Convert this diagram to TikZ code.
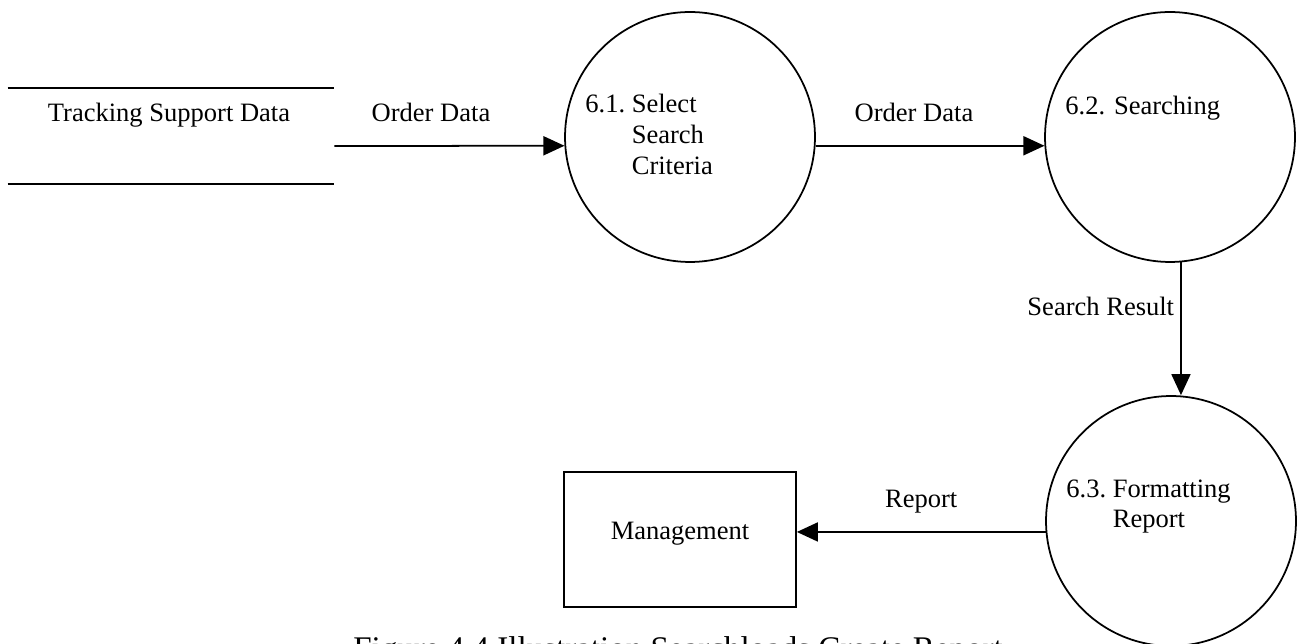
\documentclass[tikz,border=0pt]{standalone}
\usepackage{fontspec}
\setmainfont{Liberation Serif}
\usetikzlibrary{arrows.meta}
\newcommand{\proclabel}[2]{#1~\begin{tabular}[t]{@{}l@{}}#2\end{tabular}}
\tikzset{
        node_text/.style={inner sep=0pt, font=\fontsize{15.1}{17.4}\selectfont},
        % Process circles
        node_process/.style={circle, draw=black, line width=1pt, minimum size=5cm, inner sep=0pt},
        % Data store (only top and bottom lines drawn)
        node_store/.style={rectangle, minimum width=6.52cm, minimum height=1.92cm, inner sep=0pt},
        % External entity
        node_entity/.style={rectangle, draw=black, line width=1pt, minimum width=4.64cm, minimum height=2.7cm, inner sep=0pt},
        % Flow labels
        node_label/.style={node_text, anchor=base, yshift=0.48cm},
        % Caption
        node_caption/.style={inner sep=0pt, font=\fontsize{18.8}{22}\selectfont},
        flow/.style={-{Triangle[length=0.42cm, width=0.38cm]}, line width=1pt}
}
\begin{document}
\begin{tikzpicture}[x=0.02cm, y=-0.02cm]
    \useasboundingbox (0,0) rectangle (1298,644);
    \clip (0,0) rectangle (1298,644);
    % Data store
    \node[node_store] (store) at (171,136) {};
    \draw[line width=1pt] (store.north west) -- (store.north east)
                          (store.south west) -- (store.south east);
    \node[node_text, anchor=base] (storetxt) at (169,122) {Tracking Support Data};
    % Processes
    \node[node_process] (p1) at (690,137) {};
    \node[node_process] (p2) at (1170,137) {};
    \node[node_process] (p3) at (1171,521) {};
    \node[node_text, anchor=base west] (p1txt) at ([xshift=-2.1cm, yshift=0.48cm]p1.center) {\proclabel{6.1.}{Select\\Search\\Criteria}};
    \node[node_text, anchor=base west] (p2txt) at ([xshift=-2.1cm, yshift=0.45cm]p2.center) {6.2. Searching};
    \node[node_text, anchor=base west] (p3txt) at ([xshift=-2.1cm, yshift=0.48cm]p3.center) {\proclabel{6.3.}{Formatting\\Report}};
    % External entity
    \node[node_entity] (mgmt) at (680,539.5) {};
    \node[node_text, anchor=base] (mgmttxt) at (mgmt.center) {Management};
    % Flows
    \draw[flow] ([yshift=-0.2cm]store.east) -- (p1.184)
        node[node_label, pos=0.42] (f1) {Order Data};
    \draw[flow] (p1.356) -- (p2.184)
        node[node_label, pos=0.43] (f2) {Order Data};
    \draw[flow] (p2.275) -- (p2.275 |- p3.north)
        node[node_text, pos=0.4, anchor=base east, xshift=-0.12cm] (f3) {Search Result};
    \draw[flow] (p3.185) -- (p3.185 -| mgmt.east)
        node[node_label, midway] (f4) {Report};
    % Caption
    \node[node_caption, anchor=base west] (caption) at (353,660) {Figure 4.4 Illustration Searchloads Create Report};
\end{tikzpicture}
\end{document}
